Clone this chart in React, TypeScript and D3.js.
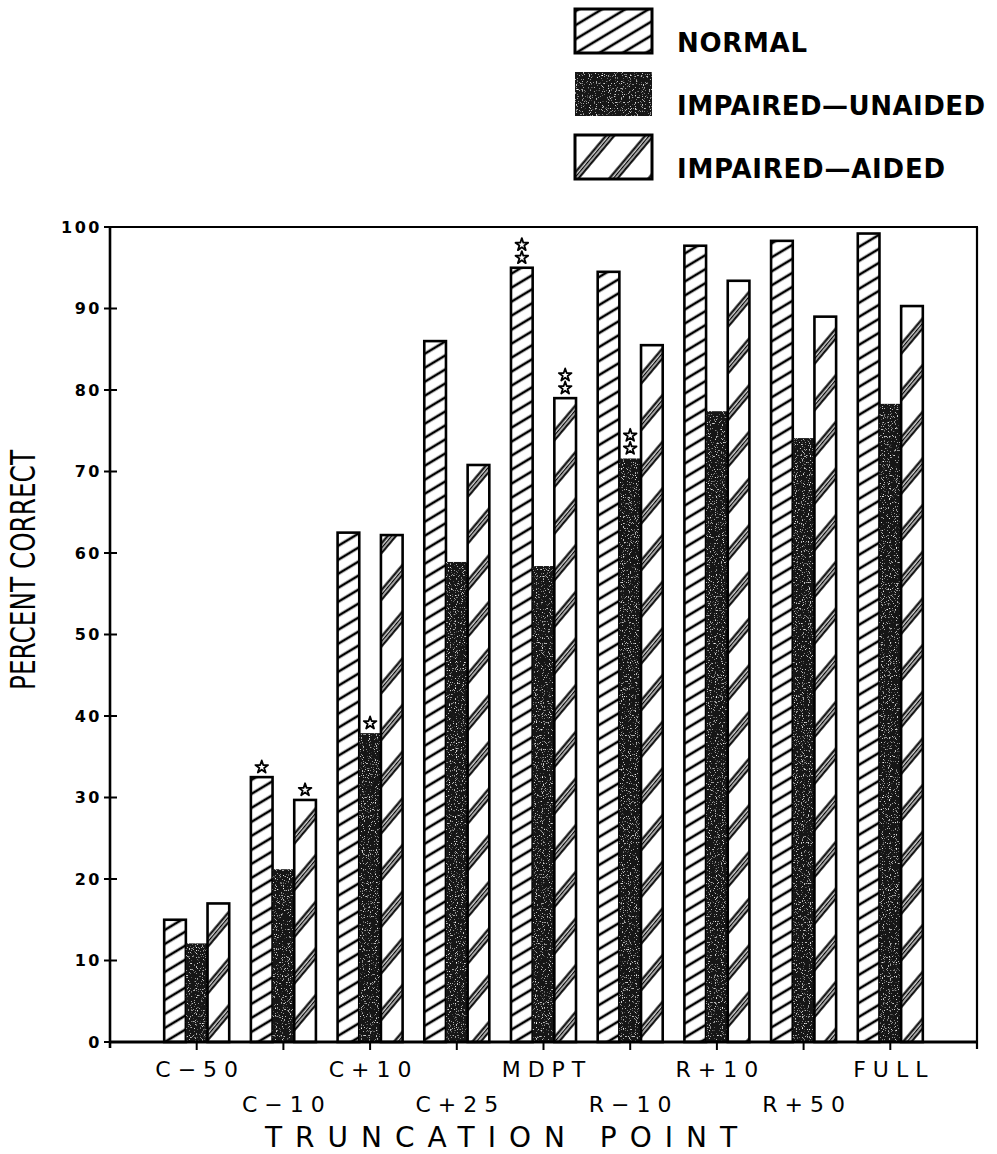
import React from 'react';
import { scaleBand, scaleLinear, range, symbol, symbolStar } from 'd3';

// truncation points along the x axis
const categories = ['C−50', 'C−10', 'C+10', 'C+25', 'MDPT', 'R−10', 'R+10', 'R+50', 'FULL'];

const series = ['NORMAL', 'IMPAIRED—UNAIDED', 'IMPAIRED—AIDED'];

// percent correct
const normal = [15, 32.5, 62.5, 86, 95, 94.5, 97.7, 98.3, 99.2];
const unaided = [12.1, 21.2, 37.9, 58.9, 58.4, 71.6, 77.4, 74.1, 78.3];
const aided = [17, 29.7, 62.2, 70.8, 79, 85.5, 93.4, 89, 90.3];

const yTicks = range(0, 101, 10);

// asterisks: [category index, series index, how many]
const stars = [
    [1, 0, 1],
    [1, 2, 1],
    [2, 1, 1],
    [4, 0, 2],
    [4, 2, 2],
    [5, 1, 2],
];

const W = 997;
const H = 1154;
const left = 110;
const right = 977;
const top = 227;
const bottom = 1042;

const font = '"DejaVu Sans", Verdana, sans-serif';

const App = () => {
    const values = [normal, unaided, aided];

    const xScale = scaleBand()
        .domain(categories)
        .range([left, right])
        .paddingInner(0.25)
        .paddingOuter(0.625);

    const barScale = scaleBand()
        .domain(series)
        .range([0, xScale.bandwidth()]);

    const yScale = scaleLinear()
        .domain([0, 100])
        .range([bottom, top]);

    const fills = ['url(#pNormal)', '#181818', 'url(#pAided)'];

    const bars = series.map((s, si) =>
        categories.map((c, ci) => {
            const v = values[si][ci];
            const x = xScale(c) + barScale(s);
            const y = yScale(v);
            return (
                <rect
                    key={s + c}
                    x={x}
                    y={y}
                    width={barScale.bandwidth()}
                    height={yScale(0) - y}
                    fill={fills[si]}
                    filter={si === 1 ? 'url(#grain)' : undefined}
                    stroke={si === 1 ? 'none' : '#000'}
                    strokeWidth={2.6}
                />
            );
        })
    );

    const starPath = symbol().type(symbolStar).size(50)();

    const starMarks = stars.map(([ci, si, n]) => {
        const cx = xScale(categories[ci]) + barScale(series[si]) + barScale.bandwidth() / 2;
        const y0 = yScale(values[si][ci]);
        return range(n).map(k => (
            <path
                key={`${ci}-${si}-${k}`}
                d={starPath}
                transform={`translate(${cx},${y0 - 10 - k * 13})`}
                fill="none"
                stroke="#000"
                strokeWidth={1.8}
                strokeLinejoin="round"
            />
        ));
    });

    const legendFills = ['url(#pNormal)', '#181818', 'url(#pAided)'];
    const legendY = [9, 72, 135];
    const legendLen = [130, 308, 268];

    return (
        <svg
            width={W}
            height={H}
            viewBox={`0 0 ${W} ${H}`}
            style={{ position: 'absolute', left: 0, top: 0, background: '#fff' }}
        >
            <defs>
                <pattern id="pNormal" patternUnits="userSpaceOnUse" width={12} height={12} patternTransform="rotate(-31)">
                    <rect width={12} height={12} fill="#fff" />
                    <line x1={-1} x2={13} y1={6} y2={6} stroke="#000" strokeWidth={2.6} />
                </pattern>
                <pattern id="pAided" patternUnits="userSpaceOnUse" width={30} height={30} patternTransform="rotate(-50)">
                    <rect width={30} height={30} fill="#fff" />
                    <line x1={-1} x2={31} y1={11.5} y2={11.5} stroke="#000" strokeWidth={2.2} />
                    <line x1={-1} x2={31} y1={14.6} y2={14.6} stroke="#000" strokeWidth={1.5} />
                    <line x1={-1} x2={31} y1={17.7} y2={17.7} stroke="#000" strokeWidth={2.2} />
                </pattern>
                <filter id="grain" x="0" y="0" width="1" height="1">
                    <feTurbulence type="fractalNoise" baseFrequency="0.85" numOctaves="1" seed="7" result="n" />
                    <feColorMatrix in="n" type="matrix" values="0 0 0 0 1  0 0 0 0 1  0 0 0 0 1  5 0 0 0 -3" result="w" />
                    <feComposite in="w" in2="SourceGraphic" operator="in" result="wc" />
                    <feMerge>
                        <feMergeNode in="SourceGraphic" />
                        <feMergeNode in="wc" />
                    </feMerge>
                </filter>
            </defs>

            {/* legend */}
            {series.map((s, i) => (
                <g key={s}>
                    <rect
                        x={575}
                        y={legendY[i]}
                        width={77}
                        height={44}
                        fill={legendFills[i]}
                        filter={i === 1 ? 'url(#grain)' : undefined}
                        stroke={i === 1 ? 'none' : '#000'}
                        strokeWidth={3}
                    />
                    <text
                        x={677}
                        y={legendY[i] + 43}
                        fontFamily={font}
                        fontWeight="bold"
                        fontSize={26}
                        textLength={legendLen[i]}
                        lengthAdjust="spacing"
                    >{s}</text>
                </g>
            ))}

            {bars}
            {starMarks}

            {/* frame */}
            <rect x={left} y={top} width={right - left} height={bottom - top} fill="none" stroke="#000" strokeWidth={2} />
            <line x1={left} x2={right} y1={bottom} y2={bottom} stroke="#000" strokeWidth={2.8} />
            <line x1={left} x2={left} y1={top} y2={bottom + 6} stroke="#000" strokeWidth={2.6} />
            <line x1={right} x2={right} y1={top} y2={bottom + 7} stroke="#000" strokeWidth={2.2} />

            {/* y axis */}
            {yTicks.map(t => (
                <g key={t}>
                    <line x1={104} x2={117} y1={yScale(t)} y2={yScale(t)} stroke="#000" strokeWidth={2} />
                    <text
                        x={102}
                        y={yScale(t) + 5.5}
                        textAnchor="end"
                        fontFamily={font}
                        fontWeight="bold"
                        fontSize={16}
                        letterSpacing={2.5}
                    >{t}</text>
                </g>
            ))}
            <text
                transform={`translate(35,${570}) rotate(-90)`}
                textAnchor="middle"
                fontFamily={font}
                fontSize={33}
                textLength={240}
                lengthAdjust="spacingAndGlyphs"
            >PERCENT CORRECT</text>

            {/* x axis */}
            {categories.map((c, i) => {
                const cx = xScale(c) + xScale.bandwidth() / 2;
                return (
                    <g key={c}>
                        <line x1={cx} x2={cx} y1={bottom} y2={bottom + 8} stroke="#000" strokeWidth={2} />
                        <text
                            x={cx + 3.5}
                            y={i % 2 === 0 ? 1077 : 1112}
                            textAnchor="middle"
                            fontFamily={font}
                            fontSize={22}
                            letterSpacing={7}
                        >{c}</text>
                    </g>
                );
            })}
            <text
                x={265}
                y={1147}
                fontFamily={font}
                fontSize={28}
                textLength={472}
                lengthAdjust="spacing"
            >TRUNCATION POINT</text>
        </svg>
    );
};

export default App;
